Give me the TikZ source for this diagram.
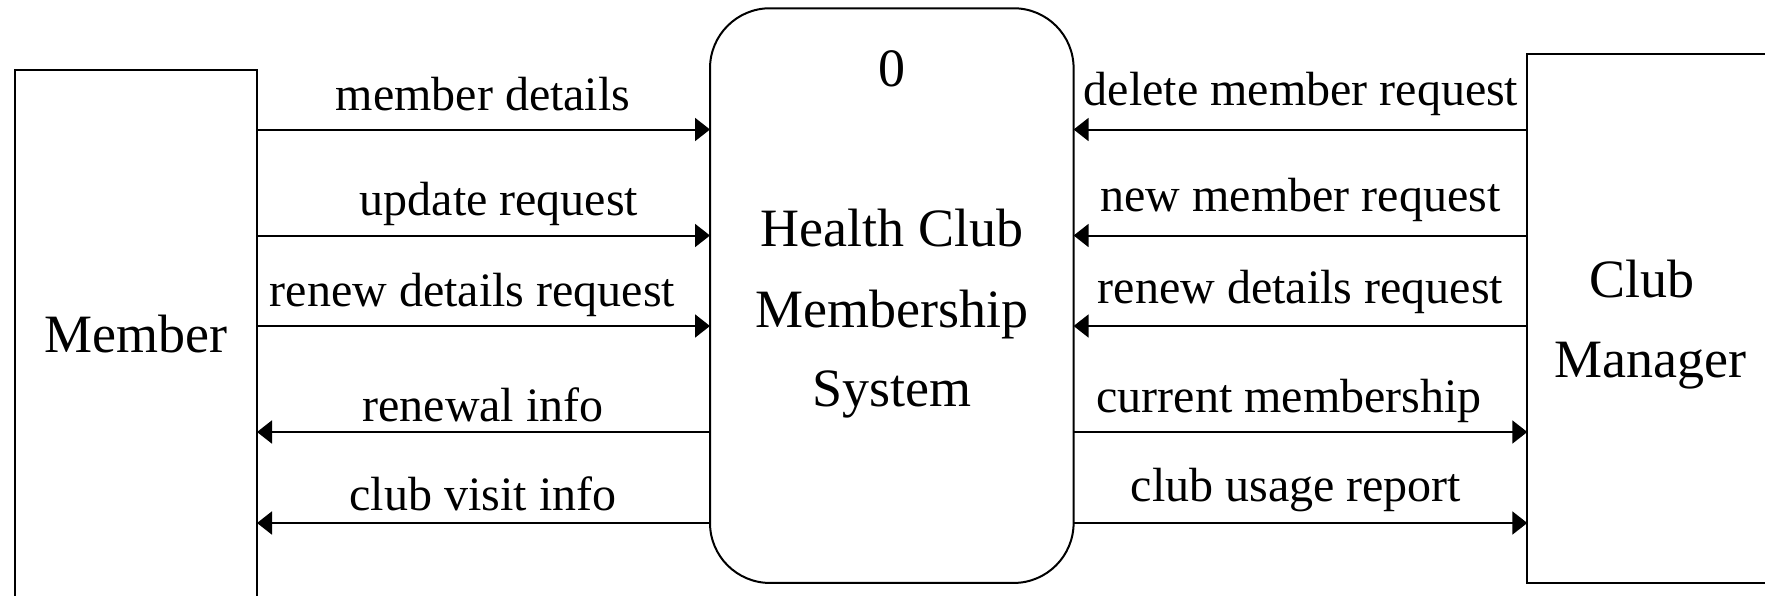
\documentclass[tikz,border=0pt]{standalone}
\usepackage{fontspec}
\setmainfont{Liberation Serif}
\usetikzlibrary{arrows.meta}
\begin{document}
\begin{tikzpicture}[x=0.5pt,y=-0.5pt,
  ent/.style={draw, line width=1pt, rectangle, inner sep=0pt, outer sep=0pt},
  procbox/.style={draw, line width=1pt, rectangle, rounded corners=30pt, inner sep=0pt, outer sep=0pt},
  lbl/.style={anchor=base, inner sep=0pt, font=\fontsize{24}{28}\selectfont},
  big/.style={anchor=base, inner sep=0pt, font=\fontsize{27}{32}\selectfont},
  flow/.style={line width=1pt, -{Triangle[length=7.5pt,width=11.5pt]}}]
\useasboundingbox (0,0) rectangle (1765,595);
\clip (0,0) rectangle (1765,595);
\fill[white] (0,0) rectangle (1765,595);
% entities and process
\node[ent, minimum width=121pt, minimum height=285pt] (mem) at (136,355) {};
\node[procbox, minimum width=181.8pt, minimum height=287.35pt] (proc) at (891.8,295.6) {};
\node[ent, minimum width=136.35pt, minimum height=264.65pt] (mgr) at (1663.65,318.65) {};
% texts in boxes
\node[big] (memtxt) at (136,352.7) {Member};
\node[big] (pnum) at (892,86.5) {0};
\node[big] (pname1) at (892,246.7) {Health Club};
\node[big] (pname2) at (892,327) {Membership};
\node[big] (pname3) at (892,406.5) {System};
\node[big] (mgrtxt1) at (1642,297) {Club};
\node[big] (mgrtxt2) at (1650,377) {Manager};
% left flows
\draw[flow] (mem.east |- 0,129.5) -- (proc.west |- 0,129.5);
\draw[flow] (mem.east |- 0,235.5) -- (proc.west |- 0,235.5);
\draw[flow] (mem.east |- 0,326) -- (proc.west |- 0,326);
\draw[flow] (proc.west |- 0,432) -- (mem.east |- 0,432);
\draw[flow] (proc.west |- 0,523) -- (mem.east |- 0,523);
\node[lbl] (l1) at (483,110) {member details};
\node[lbl] (l2) at (499,215) {update request};
\node[lbl] (l3) at (472.5,306.5) {renew details request};
\node[lbl] (l4) at (483,421.5) {renewal info};
\node[lbl] (l5) at (483,510) {club visit info};
% right flows
\draw[flow] (mgr.west |- 0,129.5) -- (proc.east |- 0,129.5);
\draw[flow] (mgr.west |- 0,235.5) -- (proc.east |- 0,235.5);
\draw[flow] (mgr.west |- 0,326) -- (proc.east |- 0,326);
\draw[flow] (proc.east |- 0,432) -- (mgr.west |- 0,432);
\draw[flow] (proc.east |- 0,523) -- (mgr.west |- 0,523);
\node[lbl] (r1) at (1301,105) {delete member request};
\node[lbl] (r2) at (1300.5,211) {new member request};
\node[lbl] (r3) at (1300.5,303) {renew details request};
\node[lbl] (r4) at (1289,412) {current membership};
\node[lbl] (r5) at (1296,501) {club usage report};
\end{tikzpicture}
\end{document}
